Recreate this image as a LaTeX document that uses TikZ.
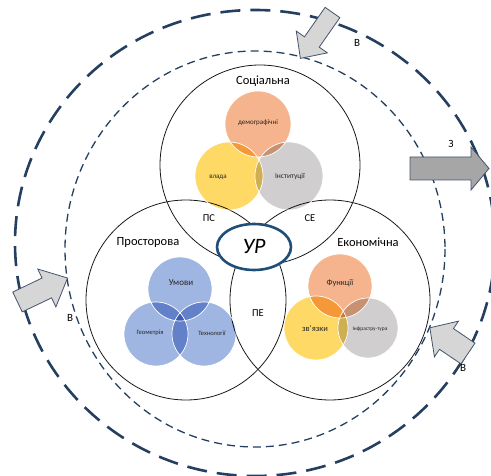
\documentclass[tikz,border=0pt]{standalone}
\usepackage{fontspec}
\setmainfont{Carlito}
\usetikzlibrary{shapes.geometric}
\definecolor{ringblue}{HTML}{243F60}
\definecolor{urblue}{HTML}{1F4E79}
\definecolor{csalmon}{HTML}{F5B48E}
\definecolor{cyellow}{HTML}{FFD966}
\definecolor{cgray}{HTML}{D0CECE}
\definecolor{cblue}{HTML}{9FB6E2}
\definecolor{arrowfill}{HTML}{D6D6D6}
\definecolor{arrowdark}{HTML}{A6A6A6}
\definecolor{arrowedge}{HTML}{44546A}
\definecolor{txt}{HTML}{262626}
% block arrow: fill, tail x, tail y, angle, length, shaft width, head width, head length
\newcommand\blockarrow[8]{%
  \begin{scope}[shift={(#2,#3)}, rotate=#4]
    \pgfmathsetmacro\bas{#5-#8}
    \pgfmathsetmacro\shw{#6/2}
    \pgfmathsetmacro\hdw{#7/2}
    \draw[arrowedge, line width=0.8pt, line join=miter, fill=#1]
      (0,-\shw) -- (\bas,-\shw) -- (\bas,-\hdw) -- (#5,0) -- (\bas,\hdw)
      -- (\bas,\shw) -- (0,\shw) -- cycle;
  \end{scope}}
\begin{document}
\begin{tikzpicture}[x=1pt, y=-1pt,
  ring/.style={draw=ringblue, line width=2.6pt, dash pattern=on 20pt off 10pt},
  innerring/.style={draw=ringblue, line width=1.3pt, dash pattern=on 8pt off 5pt},
  venn/.style={circle, draw=black!90, line width=0.8pt, minimum size=200pt, inner sep=0pt},
  bubble/.style={circle, minimum size=#1, inner sep=0pt, blend mode=multiply, text=txt},
  rim/.style={circle, draw=white, line width=0.7pt, minimum size=#1, inner sep=0pt},
  title/.style={font=\fontsize{12.5}{14}\selectfont, text=black},
  pair/.style={font=\fontsize{10.5}{12}\selectfont, text=black},
  flowlabel/.style={font=\fontsize{11}{12}\selectfont, text=black},
  tiny/.style={font=\fontsize{#1}{#1}\selectfont}]
\useasboundingbox (0,0) rectangle (491,476);

% outer and inner environment rings
\draw[ring] (255,243) ellipse [x radius=240, y radius=233];
\draw[innerring] (255,249) ellipse [x radius=190, y radius=198];

% three spheres
\node[venn] (soc) at (260,165) {};
\node[venn] (spa) at (186,300) {};
\node[venn] (eco) at (330,300) {};

% social sphere components
\node[bubble=66pt, fill=csalmon] (dem) at (258,124) {};
\node[bubble=68pt, fill=cyellow] (vla) at (229,176) {};
\node[bubble=68pt, fill=cgray]   (ins) at (289,176) {};
\node[rim=66pt] at (dem) {};
\node[rim=68pt] at (vla) {};
\node[rim=68pt] at (ins) {};

% spatial sphere components
\node[bubble=64pt, fill=cblue] (umo) at (180,289) {};
\node[bubble=64pt, fill=cblue] (geo) at (156,334) {};
\node[bubble=64pt, fill=cblue] (teh) at (204,334) {};
\node[rim=64pt] at (umo) {};
\node[rim=64pt] at (geo) {};
\node[rim=64pt] at (teh) {};

% economic sphere components
\node[bubble=64pt, fill=csalmon] (fun) at (340,286) {};
\node[bubble=64pt, fill=cyellow] (zvy) at (316,328) {};
\node[bubble=60pt, fill=cgray]   (inf) at (368,328) {};
\node[rim=64pt] at (fun) {};
\node[rim=64pt] at (zvy) {};
\node[rim=60pt] at (inf) {};

% component labels
\node[tiny=7, text=txt]   (tdem) at (258,123) {демографічні};
\node[tiny=7, text=txt]   (tvla) at (218,177) {влада};
\node[tiny=7.5, text=txt] (tins) at (290,177) {Інституції};
\node[tiny=9, text=txt]   (tumo) at (181,283) {Умови};
\node[tiny=6.5, text=txt] (tgeo) at (150,333) {Геометрія};
\node[tiny=6.5, text=txt] (tteh) at (212,333) {Технології};
\node[tiny=8.5, text=txt] (tfun) at (340,283) {Функції};
\node[tiny=8.5, text=txt] (tzvy) at (315,329) {зв'язки};
\node[tiny=5.5, text=txt] (tinf) at (370,329) {Інфрастру-тура};

% sphere titles and intersections
\node[title] (tsoc) at (263,81) {Соціальна};
\node[title] (tspa) at (148,242) {Просторова};
\node[title] (teco) at (368,242) {Економічна};
\node[pair] (ps) at (209,218) {ПС};
\node[pair] (se) at (310,218) {СЕ};
\node[pair] (pe) at (258,313) {ПЕ};

% core
\node[ellipse, draw=urblue, line width=2.6pt, fill=white,
      minimum width=74pt, minimum height=46pt, inner sep=0pt,
      font=\fontsize{22}{23}\selectfont\itshape] (ur) at (254,247) {УР};

% influence arrows
\blockarrow{arrowfill}{332.5}{12.5}{235}{56}{18}{38}{20}
\blockarrow{arrowdark}{410}{168.5}{0}{79}{23}{43}{18}
\blockarrow{arrowfill}{17.5}{302}{25.6}{55.5}{22}{42}{23}
\blockarrow{arrowfill}{468}{353.5}{146}{46}{25}{43}{20}

\node[flowlabel] (b1) at (357,43) {В};
\node[flowlabel] (b2) at (70,318) {В};
\node[flowlabel] (b3) at (463,368) {В};
\node[flowlabel] (z1) at (451,144) {З};
\end{tikzpicture}
\end{document}
